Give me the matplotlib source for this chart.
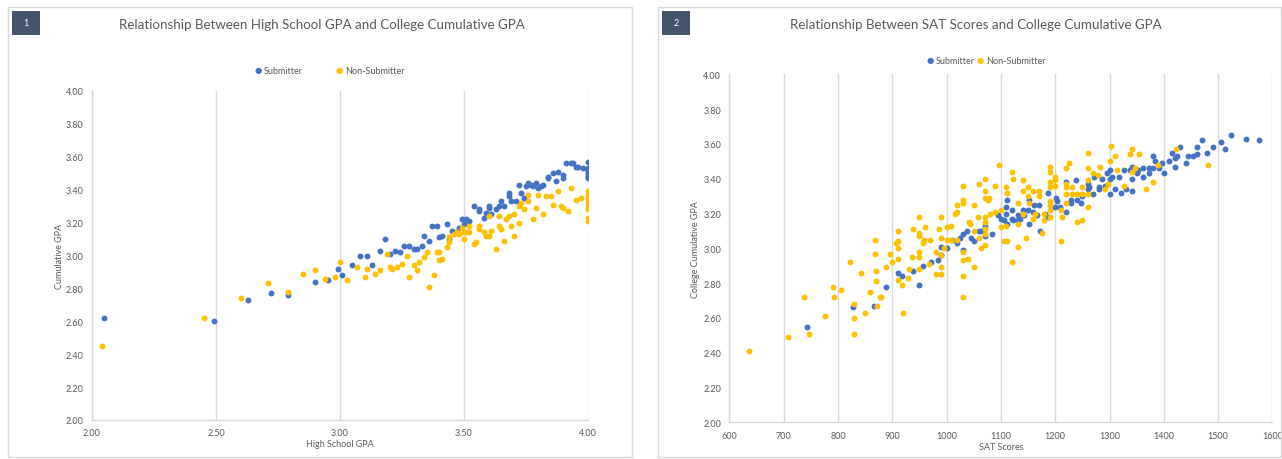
"""
Two Excel-style scatter panels: high school GPA / SAT score vs college cumulative GPA.
Writes out.png.
"""

import matplotlib.pyplot as plt
from matplotlib.patches import Rectangle

BLUE = "#4472C4"
GOLD = "#FFC000"
GRID = "#D9D9D9"
TEXT = "#595959"

# --- panel 1: (high school GPA, cumulative GPA) ---
hs_submitter = [
    (2.05, 2.62), (2.49, 2.60), (2.63, 2.73), (2.72, 2.77), (2.79, 2.76), (2.90, 2.84),
    (2.95, 2.85), (2.99, 2.92), (3.01, 2.88), (3.05, 2.94), (3.08, 3.00), (3.11, 3.00),
    (3.13, 2.94), (3.16, 3.03), (3.18, 3.10), (3.20, 3.01), (3.22, 3.03), (3.24, 3.02),
    (3.26, 3.06), (3.28, 3.06), (3.30, 3.04), (3.31, 3.04), (3.33, 3.06), (3.34, 3.12),
    (3.36, 3.09), (3.37, 3.18), (3.39, 3.18), (3.40, 3.11), (3.41, 3.12), (3.43, 3.19),
    (3.44, 3.10), (3.45, 3.15), (3.47, 3.14), (3.48, 3.17), (3.49, 3.22), (3.50, 3.19),
    (3.51, 3.22), (3.52, 3.21), (3.54, 3.30), (3.56, 3.27), (3.56, 3.28), (3.58, 3.23),
    (3.59, 3.26), (3.60, 3.30), (3.60, 3.29), (3.61, 3.25), (3.63, 3.28), (3.64, 3.30),
    (3.65, 3.33), (3.66, 3.30), (3.68, 3.38), (3.68, 3.36), (3.69, 3.33), (3.71, 3.33),
    (3.72, 3.43), (3.73, 3.38), (3.74, 3.35), (3.75, 3.42), (3.76, 3.44), (3.77, 3.43),
    (3.78, 3.42), (3.79, 3.44), (3.80, 3.41), (3.81, 3.42), (3.82, 3.43), (3.84, 3.48),
    (3.84, 3.47), (3.86, 3.50), (3.87, 3.45), (3.88, 3.51), (3.90, 3.47), (3.90, 3.49),
    (3.91, 3.56), (3.93, 3.56), (3.94, 3.56), (3.95, 3.54), (3.96, 3.54), (3.98, 3.53),
    (4.00, 3.57), (4.00, 3.53), (4.00, 3.52), (4.00, 3.51), (4.00, 3.50), (4.00, 3.49),
    (4.00, 3.48), (4.00, 3.47),
]
hs_non_submitter = [
    (2.04, 2.45), (2.45, 2.62), (2.60, 2.74), (2.71, 2.83), (2.79, 2.78), (2.85, 2.89),
    (2.90, 2.91), (2.94, 2.86), (2.98, 2.87), (3.00, 2.96), (3.03, 2.85), (3.07, 2.93),
    (3.10, 2.87), (3.11, 2.92), (3.14, 2.89), (3.16, 2.91), (3.19, 3.01), (3.20, 2.93),
    (3.21, 2.92), (3.23, 2.93), (3.25, 2.95), (3.27, 3.00), (3.28, 2.87), (3.30, 2.94),
    (3.31, 2.91), (3.32, 2.96), (3.34, 2.99), (3.35, 3.02), (3.36, 2.81), (3.38, 2.88),
    (3.39, 3.02), (3.40, 3.02), (3.40, 2.97), (3.41, 2.98), (3.43, 3.05), (3.44, 3.08),
    (3.44, 3.11), (3.46, 3.13), (3.47, 3.14), (3.48, 3.13), (3.49, 3.17), (3.50, 3.14),
    (3.50, 3.10), (3.51, 3.14), (3.52, 3.18), (3.52, 3.14), (3.54, 3.07), (3.55, 3.08),
    (3.56, 3.18), (3.56, 3.16), (3.58, 3.14), (3.59, 3.12), (3.60, 3.24), (3.60, 3.12),
    (3.61, 3.15), (3.63, 3.04), (3.64, 3.24), (3.64, 3.18), (3.65, 3.16), (3.66, 3.09),
    (3.67, 3.22), (3.68, 3.24), (3.69, 3.18), (3.70, 3.12), (3.70, 3.25), (3.72, 3.20),
    (3.72, 3.30), (3.73, 3.32), (3.74, 3.28), (3.76, 3.37), (3.76, 3.33), (3.78, 3.22),
    (3.79, 3.29), (3.80, 3.37), (3.82, 3.25), (3.83, 3.36), (3.85, 3.36), (3.86, 3.31),
    (3.88, 3.39), (3.89, 3.30), (3.90, 3.29), (3.92, 3.27), (3.93, 3.41), (3.95, 3.34),
    (3.97, 3.35), (4.00, 3.39), (4.00, 3.37), (4.00, 3.35), (4.00, 3.33), (4.00, 3.31),
    (4.00, 3.29), (4.00, 3.28), (4.00, 3.23), (4.00, 3.21),
]

# --- panel 2: (SAT score, cumulative GPA) ---
sat_submitter = [
    (743, 2.55), (828, 2.66), (867, 2.67), (889, 2.78), (911, 2.86), (917, 2.84),
    (939, 2.87), (950, 2.79), (956, 2.90), (971, 2.92), (984, 2.93), (990, 3.01),
    (990, 2.96), (1000, 3.00), (1010, 3.05), (1020, 3.03), (1025, 3.06), (1030, 3.08),
    (1030, 2.99), (1038, 3.10), (1045, 3.06), (1051, 3.04), (1060, 3.10), (1063, 3.10),
    (1071, 3.13), (1071, 3.07), (1083, 3.08), (1094, 3.19), (1100, 3.17), (1105, 3.16),
    (1110, 3.24), (1110, 3.20), (1111, 3.28), (1111, 3.14), (1120, 3.22), (1120, 3.17),
    (1123, 3.16), (1131, 3.19), (1131, 3.16), (1135, 3.17), (1140, 3.22), (1143, 3.19),
    (1149, 3.22), (1151, 3.28), (1151, 3.14), (1160, 3.21), (1161, 3.25), (1166, 3.19),
    (1171, 3.25), (1172, 3.10), (1181, 3.20), (1187, 3.32), (1187, 3.18), (1201, 3.29),
    (1203, 3.27), (1200, 3.24), (1209, 3.24), (1220, 3.38), (1220, 3.21), (1230, 3.28),
    (1230, 3.26), (1238, 3.39), (1240, 3.28), (1247, 3.26), (1250, 3.30), (1260, 3.37),
    (1260, 3.34), (1263, 3.35), (1270, 3.31), (1272, 3.41), (1280, 3.35), (1280, 3.34),
    (1286, 3.40), (1292, 3.36), (1295, 3.43), (1301, 3.45), (1301, 3.40), (1301, 3.31),
    (1305, 3.41), (1311, 3.34), (1317, 3.41), (1321, 3.32), (1326, 3.45), (1330, 3.34),
    (1337, 3.45), (1341, 3.47), (1341, 3.40), (1341, 3.33), (1350, 3.43), (1353, 3.45),
    (1361, 3.41), (1362, 3.46), (1372, 3.46), (1372, 3.43), (1381, 3.53), (1381, 3.46),
    (1384, 3.50), (1391, 3.46), (1396, 3.49), (1400, 3.43), (1410, 3.50), (1415, 3.55),
    (1421, 3.52), (1421, 3.47), (1424, 3.53), (1430, 3.58), (1440, 3.49), (1445, 3.53),
    (1453, 3.53), (1461, 3.54), (1461, 3.58), (1470, 3.62), (1479, 3.55), (1491, 3.58),
    (1505, 3.61), (1512, 3.57), (1524, 3.65), (1552, 3.63), (1576, 3.62),
]
sat_non_submitter = [
    (637, 2.41), (708, 2.49), (738, 2.72), (747, 2.51), (776, 2.61), (790, 2.78),
    (792, 2.72), (806, 2.76), (822, 2.92), (830, 2.68), (830, 2.60), (830, 2.51),
    (843, 2.86), (850, 2.63), (859, 2.75), (869, 2.97), (870, 2.87), (870, 2.81),
    (871, 2.67), (877, 2.72), (869, 3.05), (880, 2.72), (889, 2.89), (896, 2.97),
    (899, 2.92), (907, 3.03), (910, 3.10), (910, 3.04), (910, 3.00), (910, 2.94),
    (910, 2.82), (917, 2.79), (920, 2.63), (928, 2.83), (930, 2.88), (936, 2.95),
    (939, 3.11), (950, 3.18), (950, 3.09), (950, 3.07), (950, 2.98), (950, 2.95),
    (950, 2.88), (956, 3.03), (959, 3.05), (960, 3.12), (967, 2.91), (969, 3.05),
    (980, 2.98), (980, 2.85), (986, 3.11), (990, 3.18), (990, 3.06), (990, 2.96),
    (990, 2.89), (990, 2.85), (995, 3.00), (1000, 3.12), (1000, 3.05), (1009, 3.13),
    (1009, 3.05), (1015, 3.20), (1020, 3.21), (1020, 3.25), (1020, 3.05), (1030, 3.36),
    (1030, 3.28), (1030, 3.26), (1030, 2.98), (1030, 2.93), (1030, 2.84), (1030, 2.72),
    (1039, 2.94), (1041, 3.15), (1043, 3.14), (1050, 3.25), (1050, 2.89), (1050, 3.10),
    (1058, 3.18), (1060, 3.37), (1060, 3.06), (1063, 3.00), (1070, 3.40), (1070, 3.33),
    (1070, 3.29), (1070, 3.18), (1070, 3.15), (1070, 3.11), (1070, 3.08), (1070, 3.02),
    (1077, 3.28), (1079, 3.29), (1080, 3.20), (1090, 3.36), (1090, 3.21), (1097, 3.48),
    (1100, 3.22), (1100, 3.12), (1106, 3.04), (1109, 3.35), (1111, 3.32), (1109, 3.13),
    (1111, 3.04), (1120, 3.44), (1120, 2.92), (1123, 3.40), (1131, 3.26), (1131, 3.14),
    (1131, 3.01), (1140, 3.39), (1140, 3.33), (1141, 3.20), (1147, 3.06), (1150, 3.35),
    (1150, 3.30), (1152, 3.26), (1160, 3.33), (1160, 3.17), (1163, 3.20), (1170, 3.33),
    (1170, 3.30), (1175, 3.09), (1179, 3.20), (1179, 3.16), (1190, 3.47), (1190, 3.44),
    (1200, 3.41), (1200, 3.39), (1200, 3.36), (1190, 3.38), (1190, 3.35), (1190, 3.27),
    (1190, 3.25), (1190, 3.22), (1190, 3.18), (1210, 3.22), (1213, 3.18), (1211, 3.04),
    (1220, 3.46), (1220, 3.37), (1220, 3.35), (1220, 3.31), (1220, 3.26), (1225, 3.49),
    (1231, 3.35), (1231, 3.31), (1240, 3.31), (1241, 3.15), (1250, 3.35), (1250, 3.31),
    (1250, 3.16), (1260, 3.55), (1260, 3.46), (1260, 3.39), (1260, 3.31), (1260, 3.24),
    (1270, 3.43), (1279, 3.42), (1283, 3.47), (1291, 3.34), (1297, 3.37), (1301, 3.50),
    (1302, 3.59), (1311, 3.53), (1314, 3.45), (1326, 3.36), (1338, 3.54), (1341, 3.57),
    (1341, 3.44), (1347, 3.46), (1354, 3.54), (1368, 3.34), (1381, 3.38), (1389, 3.48),
    (1422, 3.57), (1481, 3.48),
]

hs_ticks = [2.00, 2.50, 3.00, 3.50, 4.00]
sat_ticks = [600, 700, 800, 900, 1000, 1100, 1200, 1300, 1400, 1500, 1600]
gpa_ticks = [2.00, 2.20, 2.40, 2.60, 2.80, 3.00, 3.20, 3.40, 3.60, 3.80, 4.00]

plt.rcParams["font.family"] = ["Lato", "DejaVu Sans"]

W, H = 1282, 460  # output size in px; layout below is in px


def style_axes(ax, xticks, xfmt):
    ax.set_ylim(2.0, 4.0)
    ax.set_yticks(gpa_ticks)
    ax.set_yticklabels([f"{v:.2f}" for v in gpa_ticks])
    ax.set_xticks(xticks)
    ax.set_xticklabels([xfmt(v) for v in xticks])
    ax.set_xlim(xticks[0], xticks[-1])
    ax.grid(axis="x", color=GRID, linewidth=1.0)
    ax.set_axisbelow(True)
    for side in ("top", "right"):
        ax.spines[side].set_visible(False)
    for side in ("left", "bottom"):
        ax.spines[side].set_color(GRID)
        ax.spines[side].set_linewidth(1.0)
    ax.tick_params(length=0, labelsize=6.5, labelcolor=TEXT, pad=6)


def scatter_series(ax, pairs, color):
    xs, ys = zip(*pairs)
    ax.scatter(xs, ys, s=18, color=color, linewidths=0, zorder=3)


def panel_frame(fig, x0, x1, num, title, title_x):
    # light outer border + dark number badge
    fig.add_artist(Rectangle((x0 / W, 2 / H), (x1 - x0) / W, 450 / H,
                             transform=fig.transFigure, fill=False,
                             edgecolor=GRID, linewidth=1.0))
    fig.add_artist(Rectangle(((x0 + 4) / W, 1 - 36 / H), 28 / W, 24 / H,
                             transform=fig.transFigure, facecolor="#44546A",
                             edgecolor="none"))
    fig.text((x0 + 18) / W, 1 - 24 / H, num, color="white", fontsize=6.5,
             ha="center", va="center")
    fig.text(title_x / W, 1 - 25 / H, title, color=TEXT, fontsize=9.6,
             ha="center", va="center")


def legend_row(fig, x_sub, x_non, y):
    for xp, color, label in ((x_sub, BLUE, "Submitter"), (x_non, GOLD, "Non-Submitter")):
        fig.text(xp / W, 1 - y / H, "\u25CF", color=color, fontsize=6,
                 ha="right", va="center", family="DejaVu Sans")
        fig.text((xp + 2) / W, 1 - y / H, label, color=TEXT, fontsize=6.5,
                 ha="left", va="center")


def main():
    fig = plt.figure(figsize=(12.82, 4.60), dpi=100)

    # left panel
    ax1 = fig.add_axes([92 / W, 1 - 421 / H, (588 - 92) / W, (421 - 92) / H])
    scatter_series(ax1, hs_submitter, BLUE)
    scatter_series(ax1, hs_non_submitter, GOLD)
    style_axes(ax1, hs_ticks, lambda v: f"{v:.2f}")
    ax1.set_xlabel("High School GPA", fontsize=6.5, color=TEXT, labelpad=1)
    ax1.set_ylabel("Cumulative GPA", fontsize=6.5, color=TEXT, labelpad=1)
    panel_frame(fig, 8, 632, "1", "Relationship Between High School GPA and College Cumulative GPA", 322)
    legend_row(fig, 262, 343, 71)

    # right panel
    ax2 = fig.add_axes([729.4 / W, 1 - 423.3 / H, (1272.4 - 729.4) / W, (423.3 - 75.3) / H])
    scatter_series(ax2, sat_submitter, BLUE)
    scatter_series(ax2, sat_non_submitter, GOLD)
    style_axes(ax2, sat_ticks, lambda v: f"{v:d}")
    ax2.set_xlabel("SAT Scores", fontsize=6.5, color=TEXT, labelpad=2)
    ax2.set_ylabel("College Cumulative GPA", fontsize=6.5, color=TEXT, labelpad=2)
    panel_frame(fig, 658, 1281, "2", "Relationship Between SAT Scores and College Cumulative GPA", 976)
    legend_row(fig, 934, 984, 61)

    fig.savefig("out.png", dpi=100)
    plt.close(fig)


if __name__ == "__main__":
    main()
